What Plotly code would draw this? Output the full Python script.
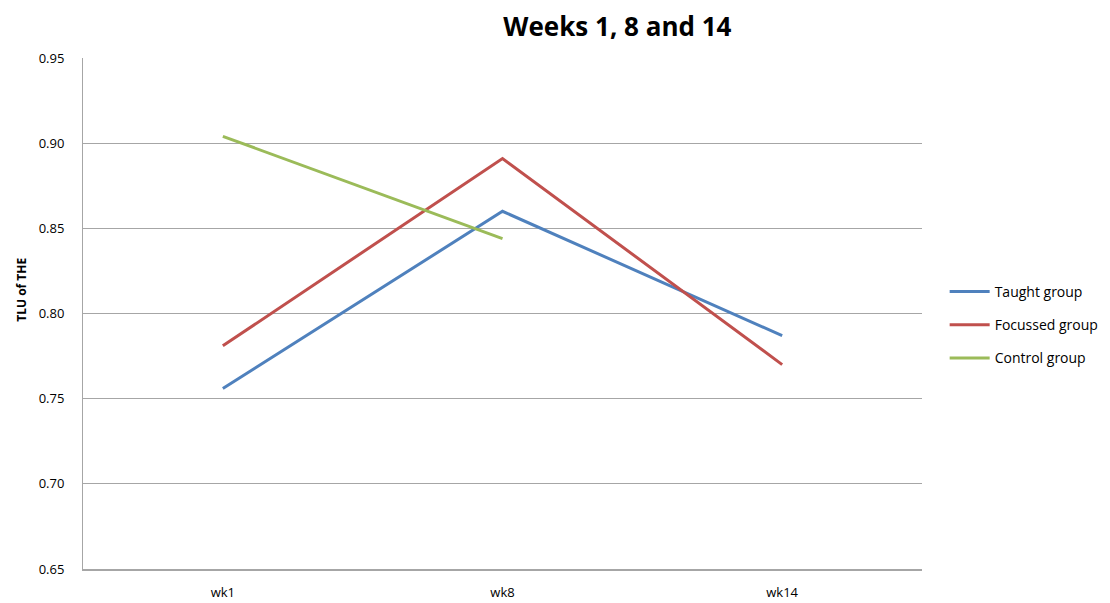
import plotly.graph_objects as go

weeks = ["wk1", "wk8", "wk14"]
taught = [0.756, 0.860, 0.787]
focussed = [0.781, 0.891, 0.770]
control = [0.904, 0.844, None]
names = ["Taught group", "Focussed group", "Control group"]
colors = ["#4F81BD", "#C0504D", "#9BBB59"]

fig = go.Figure()
for i, (name, vals, col) in enumerate(zip(names, [taught, focussed, control], colors)):
    fig.add_trace(go.Scatter(x=weeks, y=vals, name=name, mode="lines",
                             legendgroup=f"g{i}",
                             line=dict(color=col, width=3)))

fig.update_layout(
    width=1110, height=603,
    margin=dict(l=75, r=196, t=50, b=42, autoexpand=False),
    paper_bgcolor="white", plot_bgcolor="white",
    font=dict(family="Open Sans, Liberation Sans, sans-serif", size=12, color="#000"),
    title=dict(text="<b>Weeks 1, 8 and 14</b>", x=0.549, xanchor="center",
               y=0.968, yanchor="middle", font=dict(size=26, color="#000")),
    xaxis=dict(range=[-0.5, 2.5], showgrid=False, showline=True, automargin=False,
               linecolor="#A6A6A6", linewidth=2, ticks="", tickfont=dict(size=13),
               ticklabelstandoff=10),
    yaxis=dict(range=[0.65, 0.95], dtick=0.05, tickformat=".2f", automargin=False,
               showgrid=True, gridcolor="#A6A6A6", gridwidth=1,
               showline=True, linecolor="#A6A6A6", linewidth=1, ticks="",
               zeroline=False, tickfont=dict(size=13), ticklabelstandoff=15),
    legend=dict(x=1.027, y=0.4775, xanchor="left", yanchor="middle",
                font=dict(size=14), tracegroupgap=12, itemwidth=40),
    showlegend=True,
)
fig.add_annotation(text="<b>TLU of THE</b>", xref="paper", yref="paper",
                   x=-0.073, y=0.546, xanchor="center", yanchor="middle",
                   textangle=-90, showarrow=False, font=dict(size=12))
fig.write_html("out.html")
